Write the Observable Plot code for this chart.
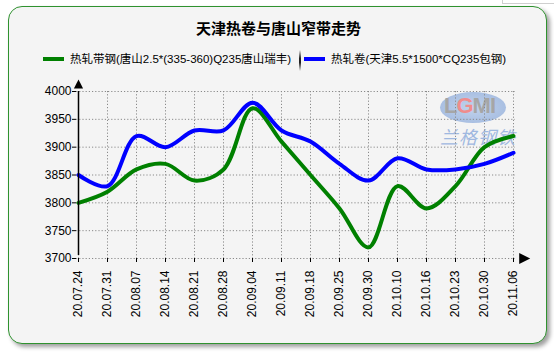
<!DOCTYPE html>
<html>
<head>
<meta charset="utf-8">
<script src="https://cdn.jsdelivr.net/npm/d3@7"></script>
<script src="https://cdn.jsdelivr.net/npm/@observablehq/plot@0.6"></script>
<style>
  html, body { margin: 0; padding: 0; background: #ffffff; }
  #root { position: relative; width: 554px; height: 352px; overflow: hidden; font-family: "Liberation Sans", "Noto Sans CJK SC", sans-serif; }
  #btn { position: absolute; left: 502px; top: -10px; width: 60px; height: 12px; border: 1px solid #cfcfcf; background: #fff; }
  #panel { position: absolute; left: 8px; top: 6px; width: 539px; height: 338px; box-sizing: border-box;
           border: 1px solid #2f922f; border-radius: 14px; background: #f4f4f4;
           box-shadow: 3px 3px 4px rgba(0,0,0,0.38); }
  .abs { position: absolute; white-space: nowrap; }
  #title { left: 196px; top: 19px; font-size: 15px; line-height: 18px; font-weight: bold; color: #000;
           font-family: "Noto Sans CJK SC", sans-serif; }
  .lg { font-size: 11.5px; line-height: 14px; top: 52px; color: #000; }
  .sw { height: 4px; top: 57px; }
  #sep { left: 299px; top: 50px; width: 2px; height: 21px; background: linear-gradient(#f4f4f4, #222 40%, #222 60%, #f4f4f4); }
  #wm-ell { left: 440px; top: 92px; width: 66px; height: 31px; border-radius: 50%;
            background: radial-gradient(ellipse at center, #b9cdea 0%, #9cb6df 70%, #c8d7ee 100%); opacity: 0.85; }
  #wm-lgmi { left: 444px; top: 94px; font-size: 22px; line-height: 24px; font-weight: bold; color: #a6a6a6; letter-spacing: -1px;
             font-family: "Liberation Sans", sans-serif; }
  #wm-cn { left: 440px; top: 126px; font-size: 18px; line-height: 20px; color: #9fb8e0; letter-spacing: 1px;
           font-family: "Noto Sans CJK SC", sans-serif; font-style: italic; }
</style>
</head>
<body>
<div id="root">
  <div id="btn"></div>
  <div id="panel"></div>
  <div id="wm-ell" class="abs"></div>
  <div id="wm-lgmi" class="abs">L<span style="color:#f08c8c">G</span>MI</div>
  <div id="wm-cn" class="abs">兰格钢铁</div>
  <div id="title" class="abs">天津热卷与唐山窄带走势</div>
  <div class="abs sw" style="left:43px;width:21px;background:#008000"></div>
  <div class="abs lg" style="left:70px">热轧带钢(唐山2.5*(335-360)Q235唐山瑞丰)</div>
  <div id="sep" class="abs"></div>
  <div class="abs sw" style="left:304px;width:21px;background:#0000ff"></div>
  <div class="abs lg" style="left:331px">热轧卷(天津5.5*1500*CQ235包钢)</div>
</div>
<script>
const dates = ["20.07.24","20.07.31","20.08.07","20.08.14","20.08.21","20.08.28","20.09.04","20.09.11",
               "20.09.18","20.09.25","20.09.30","20.10.10","20.10.16","20.10.23","20.10.30","20.11.06"];
const tangshan = [3800,3820,3860,3870,3840,3860,3970,3910,3850,3790,3720,3830,3790,3830,3900,3920];
const tianjin  = [3850,3830,3920,3900,3930,3930,3980,3930,3910,3870,3840,3880,3860,3860,3870,3890];
const yTicks = [3700,3750,3800,3850,3900,3950,4000];
const seriesNames = ["热轧带钢(唐山2.5*(335-360)Q235唐山瑞丰)", "热轧卷(天津5.5*1500*CQ235包钢)"];
const seriesColors = ["#008000", "#0000ff"];

const rows = [];
dates.forEach((d, i) => {
  rows.push({date: d, value: tangshan[i], series: seriesNames[0]});
  rows.push({date: d, value: tianjin[i], series: seriesNames[1]});
});

const upTri = {draw(ctx) { ctx.moveTo(0, -5); ctx.lineTo(4.6, 4); ctx.lineTo(-4.6, 4); ctx.closePath(); }};
const rightTri = {draw(ctx) { ctx.moveTo(6, 0); ctx.lineTo(-5, 5.5); ctx.lineTo(-5, -5.5); ctx.closePath(); }};

const first = dates[0], last = dates[dates.length - 1];
const yMin = yTicks[0], yMax = yTicks[yTicks.length - 1];

const chart = Plot.plot({
  width: 554,
  height: 352,
  marginLeft: 76,
  marginRight: 39,
  marginTop: 91,
  marginBottom: 94,
  style: {background: "transparent", fontFamily: "'Liberation Sans', Arial, sans-serif", fontSize: "12px", color: "#000"},
  x: {type: "point", domain: dates, padding: 0, label: null},
  y: {domain: [yMin, yMax], label: null},
  color: {domain: seriesNames, range: seriesColors},
  marks: [
    Plot.gridX(dates, {stroke: "#8a8a8a", strokeOpacity: 1, strokeDasharray: "1.2,2"}),
    Plot.gridY(yTicks, {stroke: "#8a8a8a", strokeOpacity: 1, strokeDasharray: "1.2,2"}),
    Plot.axisY(yTicks, {tickSize: 4, tickPadding: 1, fontSize: 12, fill: "#000", tickFormat: d => String(d), label: null}),
    Plot.axisX(dates, {tickSize: 4, tickPadding: 8, tickRotate: -90, fontSize: 12, fill: "#000", label: null}),
    Plot.line(rows, {x: "date", y: "value", stroke: "series", z: "series", curve: "catmull-rom", strokeWidth: 4, strokeLinejoin: "round"}),
    Plot.ruleX([first], {y1: yMin, y2: yMax, stroke: "#000", strokeWidth: 1.5, insetTop: -3}),
    Plot.ruleY([yMin], {x1: first, x2: last, stroke: "#000", strokeWidth: 1.5, insetRight: -6}),
    Plot.dot([first], {x: d => d, y: () => yMax, symbol: upTri, fill: "#000", stroke: "none", dy: -7, r: 4}),
    Plot.dot([last], {x: d => d, y: () => yMin, symbol: rightTri, fill: "#000", stroke: "none", dx: 10.7, r: 4})
  ]
});
chart.style.position = "absolute";
chart.style.left = "0px";
chart.style.top = "0px";
document.getElementById("root").appendChild(chart);
</script>
</body>
</html>
